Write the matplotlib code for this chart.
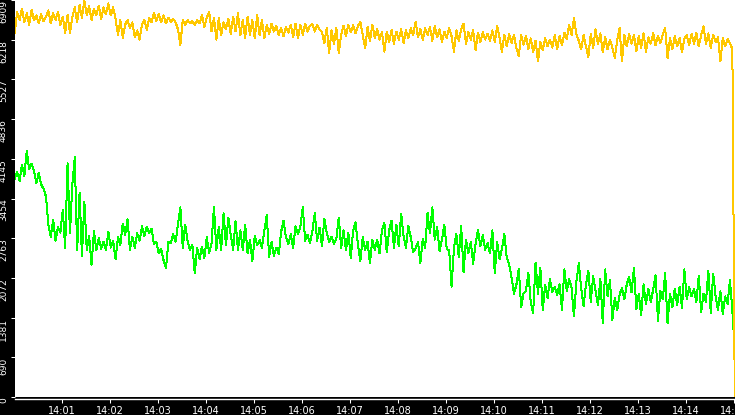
import matplotlib
matplotlib.use("Agg")
import matplotlib.pyplot as plt
import matplotlib.dates as mdates
import pandas as pd

# values, one sample every 3 s from 14:00
green = [
    3800, 3920, 3760, 4040, 3850, 4290, 3960, 4060, 3940, 3720,
    3900, 3700, 3620, 3490, 3000, 2780, 3080, 2720, 2960, 2860,
    3260, 2600, 4070, 2850, 3700, 4170, 2550, 3550, 2450, 3400,
    2560, 2800, 2300, 2890, 2560, 2760, 2580, 2700, 2560, 2880,
    2600, 2710, 2400, 2780, 2650, 3020, 2820, 3090, 2560, 2790,
    2600, 2850, 2720, 2970, 2800, 2960, 2850, 2930, 2660, 2700,
    2500, 2580, 2380, 2240, 2700, 2680, 2830, 2700, 3000, 3300,
    2600, 3000, 2720, 2560, 2650,
    2150, 2600, 2400, 2620, 2420, 2780, 2500, 2680, 3310, 2560,
    2960, 2560, 3200, 2640, 3120, 2820, 2560, 3060, 2560, 2900,
    2560, 3000, 2500, 2730, 2360, 2800, 2650, 2730, 2600, 2900,
    3160, 2440, 2700, 2460, 2600, 2480, 2880, 3070, 2780, 2660,
    2830, 2600, 2970, 2830, 2960, 3300, 2720, 2820, 2680, 2880,
    3200, 2720, 2950, 2620, 3100, 2850, 2700, 2790, 2660, 2760,
    3120, 2600, 2900, 2560, 2860, 2420, 2900, 3040, 2640, 2360,
    2780, 2560, 2700, 2330, 2740,
    2560, 2740, 2500, 2900, 3030, 2520, 2900, 3070, 2600, 3000,
    2620, 3190, 2800, 2600, 2980, 2780, 2520, 2580, 2700, 2330,
    2750, 2600, 3200, 2850, 3300, 2740, 2960, 2540, 2740, 3000,
    2570, 2550, 1920, 2600, 2840, 2440, 2980, 2170, 2740, 2500,
    2700, 2320, 2660, 2900, 2620, 2820, 2560, 2680, 2500, 2900,
    2160, 2700, 2400, 2580, 2840, 2420, 2310, 2080, 1800, 1950,
    2230, 1560, 1800, 1850, 2160, 1650, 1460, 2340, 1800, 2250,
    1520, 1950, 1720, 2050, 1830,
    1920, 1780, 1960, 1520, 2220, 1850, 2050, 1900, 1400, 2000,
    2330, 1900, 1580, 1960, 2200, 1660, 2100, 1850, 1600, 2050,
    1290, 2220, 1760, 2030, 1340, 1720, 1510, 1780, 1900, 1700,
    1960, 2090, 1820, 2250, 1530, 1800, 1430, 1960, 1620, 1880,
    1650, 1870, 2120, 1330, 1850, 1700, 2160, 1280, 1800, 1560,
    1880, 1600, 1920, 1550, 2220, 1700, 1920, 1750, 1880, 1650,
    2110, 1480, 1800, 1660, 2200, 1460, 2150, 1760, 1520, 1840,
    1450, 1750, 1620, 2030, 1500, 830,
]

yellow = [
    6330, 6700, 6560, 6760, 6520, 6680, 6480, 6740, 6560, 6640,
    6500, 6660, 6540, 6620, 6730, 6500, 6680, 6560, 6700, 6470,
    6620, 6340, 6650, 6330, 6620, 6780, 6520, 6820, 6600, 6900,
    6640, 6800, 6560, 6760, 6640, 6810, 6580, 6780, 6660, 6850,
    6640, 6780, 6580, 6300, 6560, 6250, 6480, 6560, 6420, 6520,
    6260, 6380, 6220, 6480, 6560, 6390, 6600, 6520, 6680, 6540,
    6660, 6520, 6640, 6500, 6600, 6530, 6580, 6520, 6400, 6130,
    6560, 6480, 6560, 6500, 6540, 6470, 6560, 6500, 6650, 6440,
    6600, 6700, 6360, 6600, 6220, 6600, 6300, 6520, 6400, 6580,
    6320, 6620, 6360, 6680, 6300, 6560, 6250, 6620,
    6300, 6560, 6240, 6650, 6300, 6560, 6240, 6480, 6320, 6500,
    6360, 6460, 6300, 6420, 6280, 6440, 6340, 6480, 6260, 6500,
    6240, 6470, 6300, 6500, 6360, 6460, 6490, 6360, 6480, 6400,
    6350, 6160, 6420, 5990, 6380, 6150, 6420, 5990, 6300, 6460,
    6280, 6480, 6350, 6470, 6330, 6460, 6530, 6300, 6070, 6440,
    6200, 6480, 6250, 6400, 6220, 6350, 6010, 6360, 6170, 6390,
    6150, 6360, 6220, 6400, 6160, 6380, 6240, 6420, 6300, 6530,
    6260, 6400, 6220, 6420, 6300, 6440, 6200, 6450, 6260, 6400,
    6180, 6360, 6250, 6420, 6280, 6010, 6380, 6200, 6400, 6500,
    6150, 6350, 6220, 6380, 6040, 6340, 6180, 6350, 6220, 6320,
    6200, 6380, 6180, 6450, 6250, 6010, 6300, 6100, 6320, 6160,
    6300, 6080, 5930, 6300, 6130, 6280, 6060, 6240, 6000, 6200,
    5840, 6180, 6040, 6250, 6100, 6220, 6080, 6300, 6060, 6280,
    6120, 6340, 6230, 6480, 6300, 6590, 6310, 6200, 6050, 6300,
    6100, 5920, 6320, 6080, 6400, 6140, 6330, 6000, 6260, 6050,
    6220, 6080, 5900, 6200, 6420, 5840, 6300, 6100, 6310, 6150,
    6300, 6020, 6280, 6080, 6330, 6000, 6260, 6150, 6330, 6120,
    6280, 6160, 6300, 6420, 5900, 6240, 6050, 6280, 6100, 6250,
    6000, 6240, 6300, 6120, 6320, 6150, 6340, 6100, 6300, 6450,
    6140, 6330, 6080, 6300, 6180, 6260, 5840, 6250, 6100, 6230,
    6150, 6060, 0,
]

y_ticks = [0, 690, 1381, 2072, 2763, 3454, 4145, 4836, 5527, 6218, 6909]

start = pd.Timestamp("2024-01-01 14:00:00.6")
t_green = pd.date_range(start, periods=len(green), freq="3s")
t_yellow = pd.date_range(start, periods=len(yellow), freq="3s")

W, H = 735, 415
fig = plt.figure(figsize=(W / 100, H / 100), dpi=100, facecolor="black")
ax = fig.add_axes([15 / W, 18 / H, 720 / W, 397 / H])
ax.set_facecolor("white")

ax.plot(t_green, green, color="#00ff00", lw=0.72, antialiased=False)
ax.plot(t_yellow, yellow, color="#ffc800", lw=0.72, antialiased=False)

ax.set_xlim(pd.Timestamp("2024-01-01 14:00:00.9"), pd.Timestamp("2024-01-01 14:15:00.9"))
ax.set_ylim(0, 6909)

ax.set_yticks(y_ticks)
ax.set_yticklabels([str(v) for v in y_ticks], rotation=90, va="top")
ax.xaxis.set_major_locator(mdates.MinuteLocator())
ax.xaxis.set_major_formatter(mdates.DateFormatter("%H:%M"))

ax.tick_params(axis="both", colors="white", direction="out", width=0.75)
ax.tick_params(axis="y", length=3, pad=2, labelsize=6.5)
ax.tick_params(axis="x", length=3, pad=2, labelsize=7)

for side in ["top", "right", "left"]:
    ax.spines[side].set_visible(False)
ax.spines["bottom"].set_color("white")
ax.spines["bottom"].set_linewidth(1)
ax.spines["bottom"].set_position(("outward", 1.5))

plt.savefig("out.png", dpi=100, facecolor="black")
